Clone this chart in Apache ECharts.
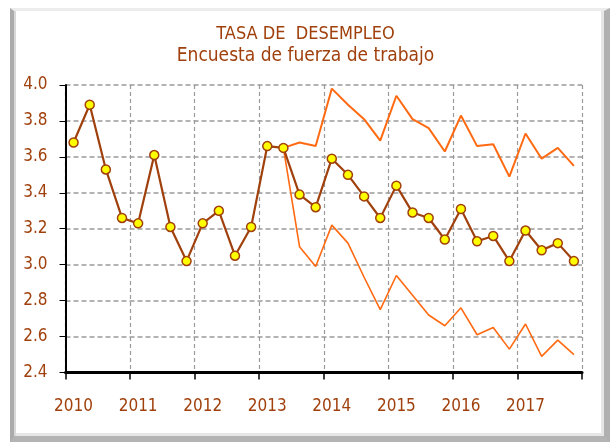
<!DOCTYPE html>
<html>
<head>
<meta charset="utf-8">
<script src="https://cdn.jsdelivr.net/npm/echarts@6/dist/echarts.min.js"></script>
<style>
  html, body { margin: 0; padding: 0; background: #fff; }
  #wrap { position: relative; width: 611px; height: 443px; }
  #main { position: absolute; left: 0; top: 0; width: 611px; height: 443px; }
  #frame {
    position: absolute; left: 10px; top: 8px; width: 590px; height: 425px;
    border-left: 4px solid #ababab;
    border-top: 3px solid #ececec;
    border-right: 6px solid #b0b0b0;
    border-bottom: 6px solid #b4b4b4;
    box-shadow: inset 2px 0 0 #d8d8d8, inset -3px -3px 0 #e6e6e6;
    pointer-events: none;
  }
</style>
</head>
<body>
<div id="wrap">
  <div id="main"></div>
  <div id="frame"></div>
</div>
<script>
var myChart = echarts.init(document.getElementById('main'));
// trimestres 2010 - 2017
var years = ['2010', '2011', '2012', '2013', '2014', '2015', '2016', '2017'];
var quarters = [];
years.forEach(function (y) {
    for (var q = 1; q <= 4; q++) quarters.push(y + ' T' + q);
});
// tasa de desempleo
var tasa = [3.68, 3.89, 3.53, 3.26, 3.23, 3.61, 3.21, 3.02,
            3.23, 3.30, 3.05, 3.21, 3.66, 3.65, 3.39, 3.32,
            3.59, 3.50, 3.38, 3.26, 3.44, 3.29, 3.26, 3.14,
            3.31, 3.13, 3.16, 3.02, 3.19, 3.08, 3.12, 3.02];
// limite superior / inferior
var superior = ['-', '-', '-', '-', '-', '-', '-', '-',
                '-', '-', '-', '-', '-', 3.65, 3.68, 3.66,
                3.98, 3.89, 3.81, 3.69, 3.94, 3.81, 3.76, 3.63,
                3.83, 3.66, 3.67, 3.49, 3.73, 3.59, 3.65, 3.55];
var inferior = ['-', '-', '-', '-', '-', '-', '-', '-',
                '-', '-', '-', '-', '-', 3.65, 3.10, 2.99,
                3.22, 3.12, 2.93, 2.75, 2.94, 2.83, 2.72, 2.66,
                2.76, 2.61, 2.65, 2.53, 2.67, 2.49, 2.58, 2.50];

var marron = '#a0400c';
var naranja = '#ff6a12';
var fuente = '"DejaVu Sans Condensed", "Liberation Sans", sans-serif';

var option = {
    animation: false,
    title: {
        text: 'TASA DE  DESEMPLEO',
        subtext: 'Encuesta de fuerza de trabajo',
        left: 'center',
        top: 20,
        itemGap: 4,
        textStyle: { color: marron, fontSize: 18, fontWeight: 'normal', fontFamily: fuente },
        subtextStyle: { color: marron, fontSize: 19, fontFamily: fuente }
    },
    grid: { //area del grafico
        left: 65.5,
        right: 29,
        top: 85,
        bottom: 70.5
    },
    xAxis: {
        type: 'category',
        data: quarters,
        boundaryGap: true,
        axisLine: { lineStyle: { color: '#000', width: 3 } },
        axisTick: { show: true, interval: 3, length: 7, lineStyle: { color: '#000', width: 1.5 } },
        axisLabel: {
            interval: 3,
            margin: 26,
            color: marron,
            fontSize: 17,
            fontFamily: fuente,
            formatter: function (v) { return v.slice(0, 4); }
        },
        splitLine: {
            show: true,
            interval: 3,
            lineStyle: { color: '#9a9a9a', type: [4, 3], width: 1.2 }
        }
    },
    yAxis: {
        type: 'value',
        min: 2.4,
        max: 4.0,
        interval: 0.2,
        axisLine: { show: true, lineStyle: { color: '#000', width: 2 } },
        axisTick: { show: true, length: 6, lineStyle: { color: '#000', width: 1 } },
        axisLabel: {
            margin: 18,
            color: marron,
            fontSize: 17,
            fontFamily: fuente,
            formatter: function (v) { return v.toFixed(1); }
        },
        splitLine: { lineStyle: { color: '#9a9a9a', type: [5, 3], width: 1.5 } }
    },
    series: [{
            name: 'Superior',
            type: 'line',
            data: superior,
            symbol: 'none',
            lineStyle: { color: naranja, width: 2 },
            z: 2
        },
        {
            name: 'Inferior',
            type: 'line',
            data: inferior,
            symbol: 'none',
            lineStyle: { color: naranja, width: 1.6 },
            z: 2
        },
        {
            name: 'Tasa',
            type: 'line',
            data: tasa,
            symbol: 'circle',
            symbolSize: 9,
            lineStyle: { color: marron, width: 2.2 },
            itemStyle: { color: '#ffff00', borderColor: marron, borderWidth: 1.5 },
            z: 3
        }
    ]
};
myChart.setOption(option);
</script>
</body>
</html>
